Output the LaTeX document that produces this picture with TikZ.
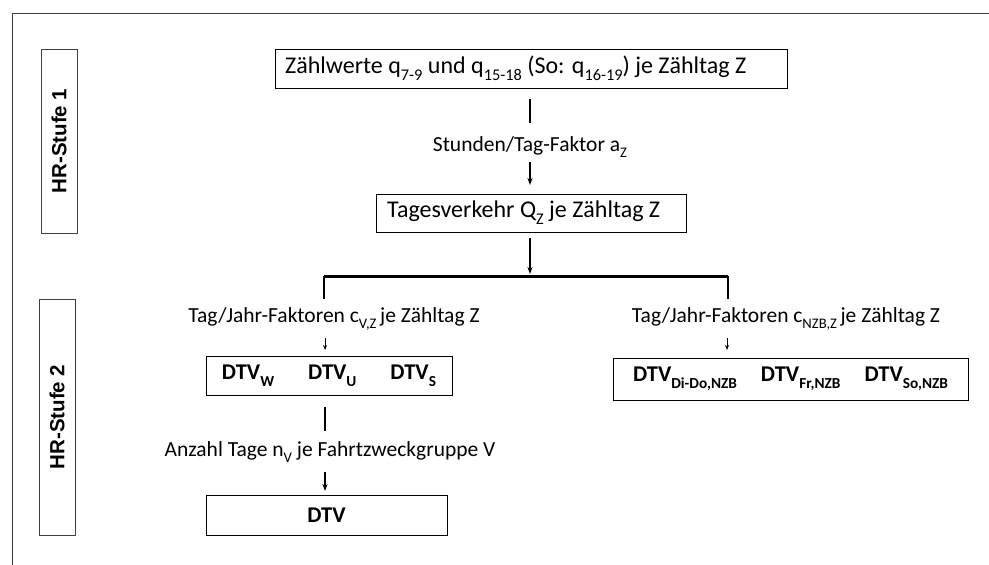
\documentclass[tikz,border=0pt]{standalone}
\usepackage{fontspec}
\setmainfont{Carlito}
\newfontfamily\arialb{Liberation Sans}
\usepackage{graphicx}
\usetikzlibrary{arrows.meta}
\newcommand\sbs[1]{\raisebox{-0.3em}{\scalebox{0.68}{#1}}}
\begin{document}
\begin{tikzpicture}[x=1pt,y=-1pt,
  box/.style={draw=black, line width=1pt, inner sep=0pt, align=center},
  mainbox/.style={box},
  btxt/.style={inner sep=0pt, anchor=west, font=\fontsize{24}{28}\selectfont},
  dtvbox/.style={box, font=\fontsize{22.5}{26}\selectfont\bfseries},
  hrbox/.style={draw=black!75, line width=1pt, inner sep=0pt, rotate=90, font=\arialb\bfseries\fontsize{20.5}{24}\selectfont},
  lbl/.style={inner sep=0pt, font=\fontsize{21.5}{25}\selectfont},
  conn/.style={line width=1.3pt},
  arr/.style={line width=1.1pt, -{Stealth[length=7pt,width=5pt]}},
  sarr/.style={line width=1pt, -{Stealth[length=5pt,width=4pt]}},
  bar/.style={line width=3pt}
]
\useasboundingbox (0,0) rectangle (989,565);
\fill[white] (0,0) rectangle (989,565);
% outer frame
\coordinate (fbl) at (12,566);
\coordinate (ftl) at (12,13);
\coordinate (ftr) at (990,13);
\draw[black!75, line width=1pt] (fbl) -- (ftl) -- (ftr);

% HR boxes
\node[hrbox, minimum width=184pt, minimum height=36pt] (hr1) at (59,141) {HR-Stufe 1};
\node[hrbox, minimum width=236pt, minimum height=36pt] (hr2) at (57,417) {HR-Stufe 2};

% main boxes
\node[mainbox, minimum width=512pt, minimum height=39pt] (b1) at (531,68.5) {};
\node[btxt] (t1) at (285,68.5)
  {Zählwerte q\sbs{7-9} und q\sbs{15-18} (So: q\sbs{16-19}) je Zähltag Z};
\node[mainbox, minimum width=310pt, minimum height=38pt] (b2) at (531,213) {};
\node[btxt] (t2) at (387,213) {Tagesverkehr Q\sbs{Z} je Zähltag Z};
\node[dtvbox, minimum width=246pt, minimum height=39pt] (bl) at (329,376)
  {DTV\sbs{W}\hspace{34pt}DTV\sbs{U}\hspace{34pt}DTV\sbs{S}};
\node[dtvbox, minimum width=355pt, minimum height=42pt] (br) at (790.5,379)
  {DTV\sbs{Di-Do,NZB}\hspace{24pt}DTV\sbs{Fr,NZB}\hspace{24pt}DTV\sbs{So,NZB}};
\node[dtvbox, minimum width=241pt, minimum height=40pt] (bd) at (326.5,515.5) {DTV};

% labels
\node[lbl] (la) at (530,147) {Stunden/Tag-Faktor a\sbs{Z}};
\node[lbl] (lv) at (334,319) {Tag/Jahr-Faktoren c\sbs{V,Z}\,je Zähltag Z};
\node[lbl] (ln) at (786,319) {Tag/Jahr-Faktoren c\sbs{NZB,Z}\,je Zähltag Z};
\node[lbl] (lg) at (330,452) {Anzahl Tage n\sbs{V} je Fahrtzweckgruppe V};

% connectors
\coordinate (c1a) at (530,99);
\coordinate (c1b) at (530,123);
\draw[conn] (c1a) -- (c1b);
\coordinate (c2a) at (530,162);
\coordinate (c2b) at (530,185);
\draw[arr] (c2a) -- (c2b);
\coordinate (c3a) at (530,238);
\coordinate (c3b) at (530,274);
\draw[arr] (c3a) -- (c3b);
\coordinate (bl0) at (324,276);
\coordinate (br0) at (728,276);
\coordinate (bl1) at (324,299);
\coordinate (br1) at (728,299);
\draw[bar] (bl0) -- (br0);
\draw[conn] (bl0) -- (bl1);
\draw[conn] (br0) -- (br1);
\coordinate (c4a) at (325,338);
\coordinate (c4b) at (325,350);
\draw[sarr] (c4a) -- (c4b);
\coordinate (c5a) at (727,338);
\coordinate (c5b) at (727,350);
\draw[sarr] (c5a) -- (c5b);
\coordinate (c6a) at (325,407);
\coordinate (c6b) at (325,431);
\draw[conn] (c6a) -- (c6b);
\coordinate (c7a) at (325,472);
\coordinate (c7b) at (325,491);
\draw[arr] (c7a) -- (c7b);
\end{tikzpicture}
\end{document}
